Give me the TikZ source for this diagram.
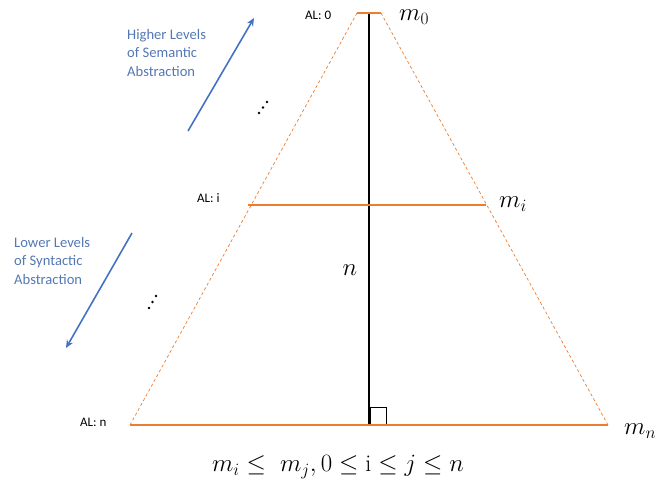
\documentclass[tikz,border=0pt]{standalone}
\usepackage{fontspec}
\newfontfamily\calibri{Carlito}
\usetikzlibrary{arrows.meta}
\definecolor{orng}{RGB}{237,125,49}
\definecolor{blu}{RGB}{68,114,196}
\definecolor{blutxt}{RGB}{84,120,180}
\tikzset{
  level/.style={draw=orng, line width=2.6pt},
  side/.style={draw=orng, line width=0.7pt, dash pattern=on 3pt off 2.5pt},
  axis/.style={draw=black, line width=2.4pt},
  al/.style={font=\calibri\fontsize{13}{15}\selectfont, inner sep=0pt},
  blutext/.style={font=\calibri\fontsize{14.6}{18.5}\selectfont, text=blutxt, align=left, inner sep=0pt},
  mlab/.style={font=\fontsize{24}{28}\selectfont, inner sep=0pt},
  dirarrow/.style={draw=blu, line width=1.6pt, -{Stealth[length=8pt,width=7pt]}},
  dotty/.style={circle, fill=black, inner sep=0pt, minimum size=2.6pt}
}
\begin{document}
\begin{tikzpicture}[x=1pt,y=-1pt]
\useasboundingbox (0,0) rectangle (656,493);
% key points
\coordinate (tl) at (357,13);
\coordinate (tr) at (381,13);
\coordinate (ml) at (248,205);
\coordinate (mr) at (486,205);
\coordinate (bl) at (130,425);
\coordinate (br) at (608,425);
\coordinate (top) at (369,12);
\coordinate (foot) at (369,425);
% dashed sides
\draw[side] (tl) -- (bl);
\draw[side] (tr) -- (br);
% axis
\draw[axis] (top) -- (foot);
% right angle mark
\draw[black, line width=0.8pt] (370,407) rectangle (386,425);
% levels
\draw[level] (tl) -- (tr);
\draw[level] (ml) -- (mr);
\draw[level] (bl) -- (br);
% level labels
\node[al, anchor=west] (al0) at (305,15) {AL: 0};
\node[al, anchor=west] (ali) at (197,198) {AL: i};
\node[al, anchor=west] (aln) at (80,422) {AL: n};
\node[mlab, anchor=west] (m0) at (399,17) {$m_0$};
\node[mlab, anchor=west] (mi) at (499,204) {$m_i$};
\node[mlab, anchor=west] (mn) at (624,431) {$m_n$};
\node[mlab] (nlab) at (350,270) {$n$};
% formula
\node[mlab] (formula) at (338,467) {$m_i \leq\ m_j, 0 \leq \mathrm{i} \leq j \leq n$};
% direction texts
\node[blutext, anchor=north west] (hi) at (127,29) {Higher Levels\\of Semantic\\Abstraction};
\node[blutext, anchor=north west] (lo) at (14,237) {Lower Levels\\of Syntactic\\Abstraction};
% arrows
\coordinate (hitail) at (188,131);
\coordinate (hihead) at (254,18);
\coordinate (lotail) at (132,233);
\coordinate (lohead) at (66,348);
\draw[dirarrow] (hitail) -- (hihead);
\draw[dirarrow] (lotail) -- (lohead);
% ellipses
\node[dotty] (d1) at (267,102) {};
\node[dotty] (d2) at (263,107.5) {};
\node[dotty] (d3) at (259,113) {};
\node[dotty] (d4) at (156,296) {};
\node[dotty] (d5) at (152.5,302) {};
\node[dotty] (d6) at (149,308) {};
\end{tikzpicture}
\end{document}
